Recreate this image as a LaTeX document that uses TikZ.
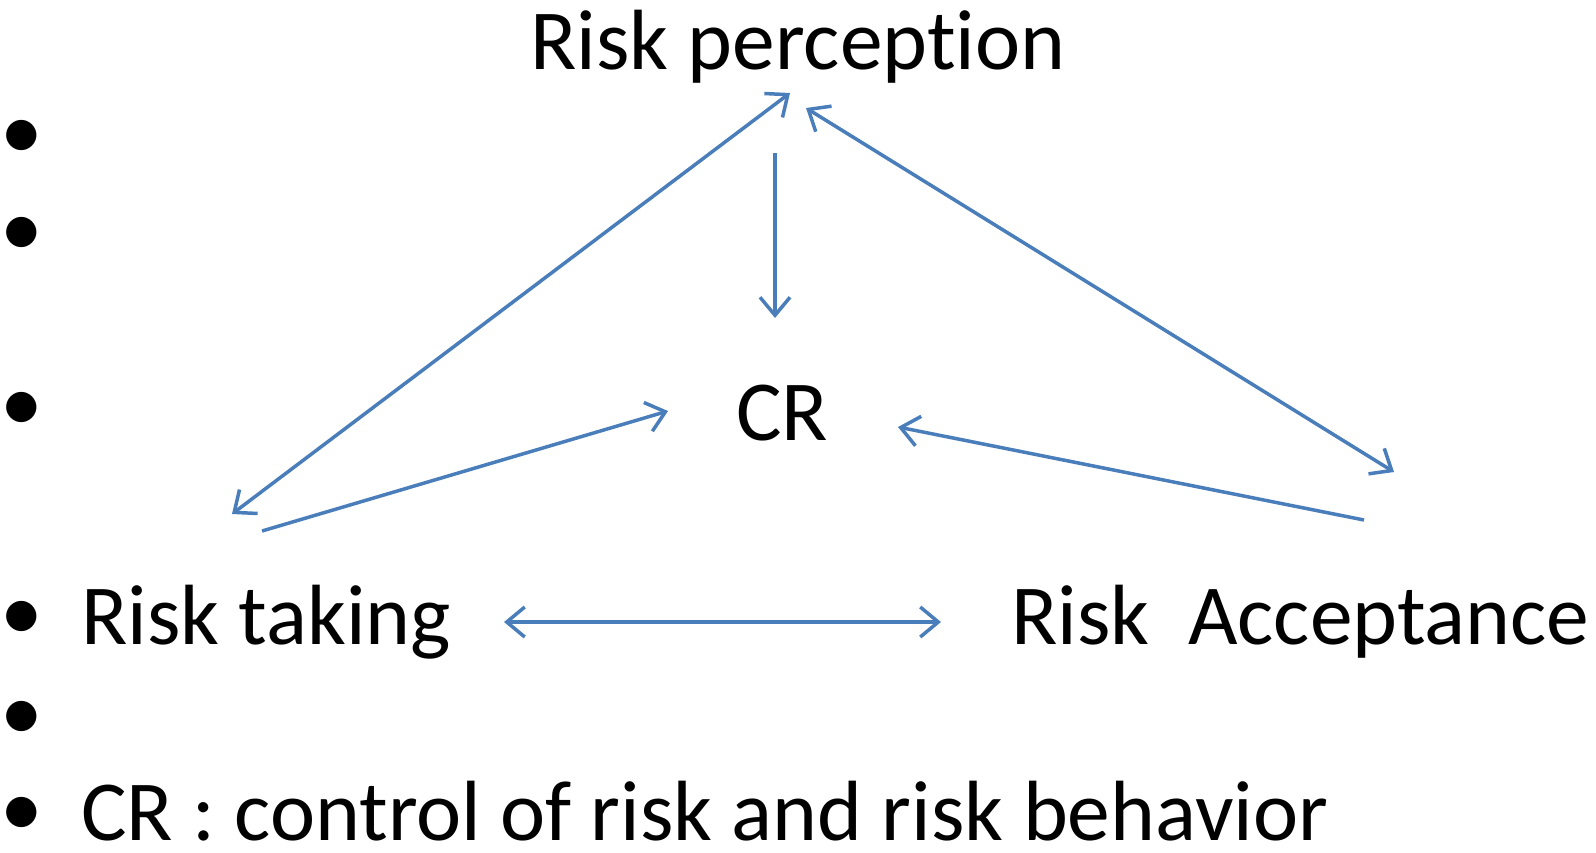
\documentclass[tikz,border=0pt]{standalone}
\usepackage{fontspec}
\setmainfont{Carlito}[Ligatures={NoCommon,NoRare,NoDiscretionary}]
\usepackage{tikz}
\usetikzlibrary{arrows.meta,calc}
\definecolor{linkblue}{HTML}{4A7EBB}
\tikzset{label/.style={anchor=base west,inner sep=0pt,font=\fontsize{85.5}{100}\selectfont}}
\tikzset{bullet/.style={anchor=center,inner sep=0pt,font=\fontsize{85.5}{100}\selectfont}}
\tikzset{link/.style={draw=linkblue,line width=3.5pt,arrows={-Straight Barb[length=18pt,width=30pt]}}}
\tikzset{twolink/.style={link,arrows={Straight Barb[length=18pt,width=30pt]-Straight Barb[length=18pt,width=30pt]}}}

\begin{document}
\begin{tikzpicture}
[x=1pt, y=-1pt]
\useasboundingbox (0,0) rectangle (1596,852);

\foreach \y [count=\i] in {140,237,412,621,721,817}
  \node (b\i) at (22,\y)[bullet]{\textbullet};

\node (rp) at (530,69)[label]{Risk perception};
\node (cr) at (736,440)[label]{CR};
\node (rt) at (81,644)[label]{Risk taking};
\node (ra) at (1011,644)[label]{Risk\ \ Acceptance};
\node (def) at (81,840)[label]{CR : control of risk and risk behavior};

% arrow ends
\coordinate (rp-l) at (790,93);
\coordinate (rp-r) at (806,108);
\coordinate (rp-d) at (775,153);
\coordinate (cr-u) at (775,318);
\coordinate (cr-l) at (668,411);
\coordinate (cr-r) at (898,427);
\coordinate (rt-u) at (232,514);
\coordinate (rt-c) at (262,531);
\coordinate (rt-r) at (504,622);
\coordinate (ra-l) at (941,622);
\coordinate (ra-u) at (1394,472);
\coordinate (ra-c) at (1364,520);

\draw[twolink] (rt-u) -- (rp-l);
\draw[twolink] (rp-r) -- (ra-u);
\draw[link] (rp-d) -- (cr-u);
\draw[link] (rt-c) -- (cr-l);
\draw[link] (ra-c) -- (cr-r);
\draw[twolink] (rt-r) -- (ra-l);
\end{tikzpicture}
\end{document}
